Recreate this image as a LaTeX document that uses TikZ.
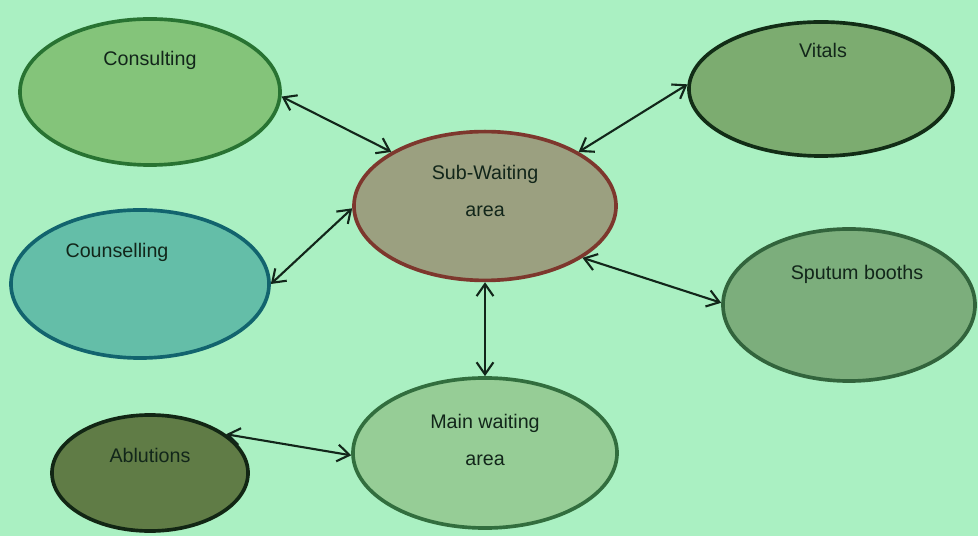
\documentclass[tikz,border=0pt]{standalone}
\usepackage{fontspec}
\setmainfont{Liberation Sans}
\usepackage{tikz}
\usetikzlibrary{shapes.geometric,arrows.meta}

\definecolor{bggreen}{RGB}{170,240,194}
\definecolor{inkdark}{RGB}{18,38,26}

\begin{document}
\begin{tikzpicture}[x=0.025cm, y=-0.025cm]
    % Define styles
    \tikzstyle{room} = [ellipse, line width=2.6pt, inner sep=0pt]
    \tikzstyle{roomtext} = [font=\fontsize{14}{26}\selectfont, text=inkdark, align=center]
    \tikzstyle{arrow} = [line width=1.5pt, draw=inkdark, {Straight Barb[length=3mm,width=4.2mm]}-{Straight Barb[length=3mm,width=4.2mm]}]

    % Background
    \fill[bggreen] (0,0) rectangle (978,536);
    \useasboundingbox (0,0) rectangle (978,536);

    % Nodes
    \node (subwait) [room, fill={rgb,255:red,155;green,160;blue,128}, draw={rgb,255:red,125;green,55;blue,45}, minimum width=6.55cm, minimum height=3.72cm,
        label={[roomtext, yshift=0.375cm]center:Sub-Waiting\\area}] at (485,206) {};
    \node (consult) [room, fill={rgb,255:red,132;green,196;blue,122}, draw={rgb,255:red,40;green,115;blue,50}, minimum width=6.5cm, minimum height=3.65cm,
        label={[roomtext, yshift=0.8cm]center:Consulting}] at (150,92) {};
    \node (vitals) [room, fill={rgb,255:red,124;green,172;blue,112}, draw={rgb,255:red,18;green,45;blue,22}, minimum width=6.6cm, minimum height=3.35cm,
        label={[roomtext, xshift=0.05cm, yshift=0.975cm]center:Vitals}] at (821,89) {};
    \node (counsel) [room, fill={rgb,255:red,100;green,190;blue,168}, draw={rgb,255:red,18;green,100;blue,110}, minimum width=6.45cm, minimum height=3.7cm,
        label={[roomtext, xshift=-0.575cm, yshift=0.8cm]center:Counselling}] at (140,284) {};
    \node (sputum) [room, fill={rgb,255:red,124;green,174;blue,124}, draw={rgb,255:red,50;green,100;blue,60}, minimum width=6.3cm, minimum height=3.8cm,
        label={[roomtext, xshift=0.2cm, yshift=0.775cm]center:Sputum booths}] at (849,305) {};
    \node (ablution) [room, fill={rgb,255:red,96;green,124;blue,70}, draw={rgb,255:red,18;green,38;blue,20}, minimum width=4.9cm, minimum height=2.9cm,
        label={[roomtext, yshift=0.45cm]center:Ablutions}] at (150,473) {};
    \node (mainwait) [room, fill={rgb,255:red,150;green,205;blue,150}, draw={rgb,255:red,50;green,110;blue,62}, minimum width=6.6cm, minimum height=3.75cm,
        label={[roomtext, yshift=0.325cm]center:Main waiting\\area}] at (485,453) {};

    % Arrows
    \draw [arrow] (consult.-2) -- (subwait.150);
    \draw [arrow] (vitals.178) -- (subwait.30);
    \draw [arrow] (counsel.0) -- (subwait.181);
    \draw [arrow] (sputum.179) -- (subwait.-28);
    \draw [arrow] (subwait.-90) -- (mainwait.90);
    \draw [arrow] (ablution.27) -- (mainwait.181);
\end{tikzpicture}
\end{document}
